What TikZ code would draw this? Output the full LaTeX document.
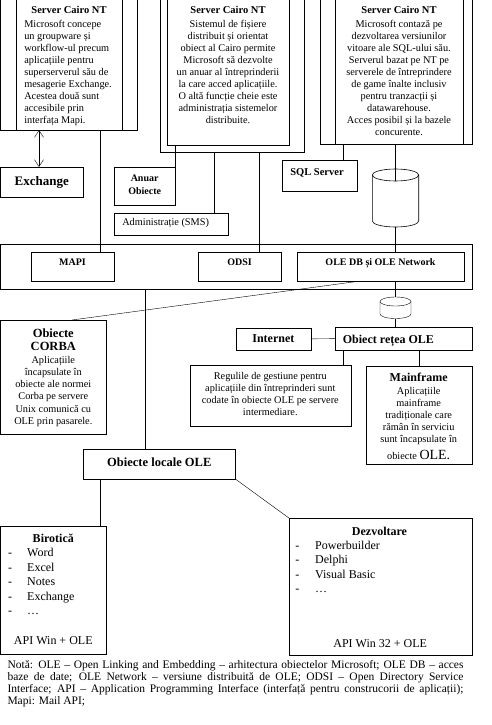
\documentclass[tikz,border=0pt]{standalone}
\usepackage{fontspec}
\setmainfont{Liberation Serif}
\usetikzlibrary{arrows.meta,fit}
\pgfdeclarelayer{background}
\pgfsetlayers{background,main}
\begin{document}
\begin{tikzpicture}[x=1pt,y=-1pt,line width=0.6pt,
  bx/.style={draw, fill=white, inner sep=0pt, outer sep=0pt, fit={#1}},
  ghost/.style={inner sep=0pt, outer sep=0pt, fit={#1}},
  txt/.style={inner sep=0pt, font=\fontsize{10.3}{12}\selectfont},
  ttl/.style={inner sep=0pt, font=\bfseries\fontsize{10.5}{12}\selectfont},
  big/.style={inner sep=0pt, font=\bfseries\fontsize{12.5}{12.7}\selectfont},
  lst/.style={inner sep=0pt, font=\fontsize{12}{14.5}\selectfont},
  cylpath/.style={draw, fill=white},
  dbl/.style={{Straight Barb[length=7pt,width=9pt]}-{Straight Barb[length=7pt,width=9pt]}}]
\useasboundingbox (0,0) rectangle (491,725);
\fill[white] (0,0) rectangle (491,725);

% x positions of vertical connectors
\coordinate (xA) at (39,0);
\coordinate (xB) at (100,0);
\coordinate (xD) at (213.7,0);
\coordinate (xE) at (259.5,0);
\coordinate (xF) at (342.7,0);
\coordinate (xG) at (395.5,0);
\coordinate (xH) at (456.5,0);
\coordinate (xI) at (145,0);
\coordinate (xJ) at (419,0);
\coordinate (xK) at (358.3,0);
\coordinate (xL) at (72,0);

% ---------- top servers ----------
\node[bx={(0.6,-2) (137,130)}] (s1) {};
\draw (16,-2) -- (16,130) (122,-2) -- (122,130);
\node[ttl, anchor=base] (s1t) at (69,13.5) {Server Cairo NT};
\node[txt, anchor=north west, align=left] (s1b) at (24,20.4) {Microsoft concepe\\un groupware și\\workflow-ul precum\\aplicațiile pentru\\superserverul său de\\mesagerie Exchange.\\Acestea două sunt\\accesibile prin\\interfața Mapi.};

\node[bx={(0.6,167) (83,197.3)}] (ex) {};
\node[inner sep=0pt, font=\bfseries\fontsize{13}{14}\selectfont] (ext) at (ex.center) {Exchange};

\node[bx={(160,-2) (304,152)}] (s2o) {};
\node[bx={(167,-2) (289,145)}] (s2) {};
\node[ttl, anchor=base] (s2t) at (228,13.5) {Server Cairo NT};
\node[txt, anchor=north, align=center] (s2b) at (228,19.7) {Sistemul de fișiere\\distribuit și orientat\\obiect al Cairo permite\\Microsoft să dezvolte\\un anuar al întreprinderii\\la care acced aplicațiile.\\O altă funcție cheie este\\administrația sistemelor\\distribuite.};

\node[bx={(114.3,167.7) (175,205.3)}] (an) {};
\node[inner sep=0pt, align=center, font=\bfseries\fontsize{10}{13}\selectfont] (ant) at ([yshift=2pt]an.center) {Anuar\\Obiecte};

\node[bx={(114.3,213.3) (228.5,235.5)}] (adm) {};
\node[txt, anchor=west] (admt) at (122,222.7) {Administrație (SMS)};

\node[bx={(320,-2) (472,144)}] (s3) {};
\draw (335,-2) -- (335,144) (463,-2) -- (463,144);
\node[ttl, anchor=base] (s3t) at (399,13.5) {Server Cairo NT};
\node[txt, anchor=north, align=center] (s3b) at (399,19.7) {Microsoft contază pe\\dezvoltarea versiunilor\\vitoare ale SQL-ului său.\\Serverul bazat pe NT pe\\serverele de întreprindere\\de game înalte inclusiv\\pentru tranzacții și\\datawarehouse.\\Acces posibil și la bazele\\concurente.};

\node[bx={(282.3,160) (357.7,191)}] (sql) {};
\node[ttl, anchor=base west] (sqlt) at (290,175.3) {SQL Server};

% big cylinder
\node[ghost={(372.3,169) (418.7,227)}] (cylA) {};
\path[cylpath] (372.3,175) -- (372.3,221)
  arc[start angle=180, end angle=360, x radius=23.2pt, y radius=6pt]
  -- (418.7,175)
  arc[start angle=0, end angle=180, x radius=23.2pt, y radius=6pt] -- cycle;
\draw (372.3,175) arc[start angle=180, end angle=360, x radius=23.2pt, y radius=6pt];
\coordinate (cylAfront) at (395.5,181);

% ---------- interface band ----------
\begin{pgfonlayer}{background}
\draw (s3.south -| xH) -- (xH |- 0,327.3) coordinate (hEnd);
\end{pgfonlayer}
\node[bx={(0.6,244) (471.7,289.3)}] (wide) {};
\node[bx={(31,251.7) (114,281.3)}] (mapi) {};
\node[bx={(198.3,251.7) (281,281.3)}] (odsi) {};
\node[bx={(297,251.7) (463.7,281.3)}] (oledb) {};
\node[ttl, font=\bfseries\fontsize{10}{12}\selectfont, anchor=base] (mapit) at (72.5,265.6) {MAPI};
\node[ttl, font=\bfseries\fontsize{10}{12}\selectfont, anchor=base] (odsit) at (239.5,265.6) {ODSI};
\node[ttl, font=\bfseries\fontsize{10}{12}\selectfont, anchor=base] (oledbt) at (380.5,265.6) {OLE DB și OLE Network};

% small cylinder
\node[ghost={(380,297) (411,318.5)}] (cylB) {};
\path[cylpath] (380,301.5) -- (380,314)
  arc[start angle=180, end angle=360, x radius=15.5pt, y radius=4.5pt]
  -- (411,301.5)
  arc[start angle=0, end angle=180, x radius=15.5pt, y radius=4.5pt] -- cycle;
\draw (380,301.5) arc[start angle=180, end angle=360, x radius=15.5pt, y radius=4.5pt];

% ---------- middle ----------
\node[bx={(0.6,320) (106,434)}] (corba) {};
\node[big, align=center, anchor=north] (corbah) at (53.3,328.8) {Obiecte\\CORBA};
\node[txt, anchor=north, align=center, font=\fontsize{10.3}{12.3}\selectfont] (corbab) at (53.3,355.7) {Aplicațiile\\încapsulate în\\obiecte ale normei\\Corba pe servere\\Unix comunică cu\\OLE prin pasarele.};

\node[bx={(236,327.7) (310.7,350)}] (inet) {};
\node[inner sep=0pt, font=\bfseries\fontsize{12}{13}\selectfont] (inett) at (inet.center) {Internet};

\node[bx={(335,327.3) (472,350)}] (retea) {};
\node[inner sep=0pt, anchor=base west, font=\bfseries\fontsize{12}{13}\selectfont] (reteat) at (342.7,343.3) {Obiect rețea OLE};

\node[bx={(190,365) (350.7,425.7)}] (reg) {};
\node[txt, anchor=north, align=center] (regt) at (270.3,372) {Regulile de gestiune pentru\\aplicațiile din întreprinderi sunt\\codate în obiecte OLE pe servere\\intermediare.};

\node[bx={(365.7,365.7) (471.7,464.3)}] (mf) {};
\node[inner sep=0pt, anchor=base, font=\bfseries\fontsize{12}{13}\selectfont] (mft) at (418.7,381.7) {Mainframe};
\node[txt, anchor=north, align=center] (mfb) at (418.7,387.4) {Aplicațiile\\mainframe\\tradiționale care\\rămân în serviciu\\sunt încapsulate în};
\node[txt, anchor=base] (mfc) at (418.7,459.5) {obiecte {\fontsize{14}{14}\selectfont OLE.}};

\node[bx={(83.3,449.3) (235.3,479)}] (loc) {};
\node[big, anchor=base] (loct) at (159.3,466) {Obiecte locale OLE};

% ---------- bottom ----------
\node[bx={(0.6,525.7) (106,654.3)}] (bir) {};
\node[inner sep=0pt, anchor=base, font=\bfseries\fontsize{12}{13}\selectfont] (birt) at (53.3,542.5) {Birotică};
\foreach \t [count=\i] in {Word,Excel,Notes,Exchange,…}{
  \node[lst, anchor=base] (bd\i) at (10,{556.5+14.5*(\i-1)}) {-};
  \node[lst, anchor=base west] (bi\i) at (27,{556.5+14.5*(\i-1)}) {\t};
}
\node[lst, anchor=base] (bira) at (53.3,644.3) {API Win + OLE};

\node[bx={(289.3,518.3) (471.7,655)}] (dez) {};
\node[inner sep=0pt, anchor=base, font=\bfseries\fontsize{12}{13}\selectfont] (dezt) at (379.5,535.3) {Dezvoltare};
\foreach \t [count=\i] in {Powerbuilder,Delphi,Visual Basic,…}{
  \node[lst, anchor=base] (dd\i) at (297.3,{549.3+14.5*(\i-1)}) {-};
  \node[lst, anchor=base west] (di\i) at (315,{549.3+14.5*(\i-1)}) {\t};
}
\node[lst, anchor=base] (deza) at (380.2,647.5) {API Win 32 + OLE};

\node[inner sep=0pt, anchor=north west, text width=456pt, align=justify, font=\fontsize{11.5}{11.7}\selectfont] (note) at (7.3,660.6) {Notă: OLE – Open Linking and Embedding – arhitectura obiectelor Microsoft; OLE DB – acces\linebreak baze de date; OLE Network – versiune distribuită de OLE; ODSI – Open Directory Service\linebreak Interface; API – Application Programming Interface (interfață pentru construcorii de aplicații);\linebreak Mapi: Mail API;};

% ---------- connectors ----------
\draw[dbl] (s1.south -| xA) -- (ex.north -| xA);
\draw (s1.south -| xB) -- (mapi.north -| xB);
\draw (s2.south -| an.north east) -- (an.north east);
\draw (s2o.south -| xD) -- (adm.north -| xD);
\draw (s2o.south -| xE) -- (odsi.north -| xE);
\draw (s3.south -| xF) -- (sql.north -| xF);
\draw (s3.south -| xG) -- (cylAfront);
\draw (cylA.south) -- (oledb.north -| cylA.south);
\draw (oledb.south -| xG) -- (cylB.north);
\draw (cylB.south) -- (retea.north -| cylB.south);
\draw (inet.east) -- (retea.west);
\draw (oledb.south -| xK) -- (corba.north -| xL);
\draw (wide.south -| xI) -- (loc.north -| xI);
\draw (retea.south -| xF) -- (reg.north -| xF);
\draw (retea.south -| xJ) -- (mf.north -| xJ);
\draw (loc.south -| xB) -- (bir.north -| xB);
\draw (loc.south east) -- (dez.north west);
\end{tikzpicture}
\end{document}
